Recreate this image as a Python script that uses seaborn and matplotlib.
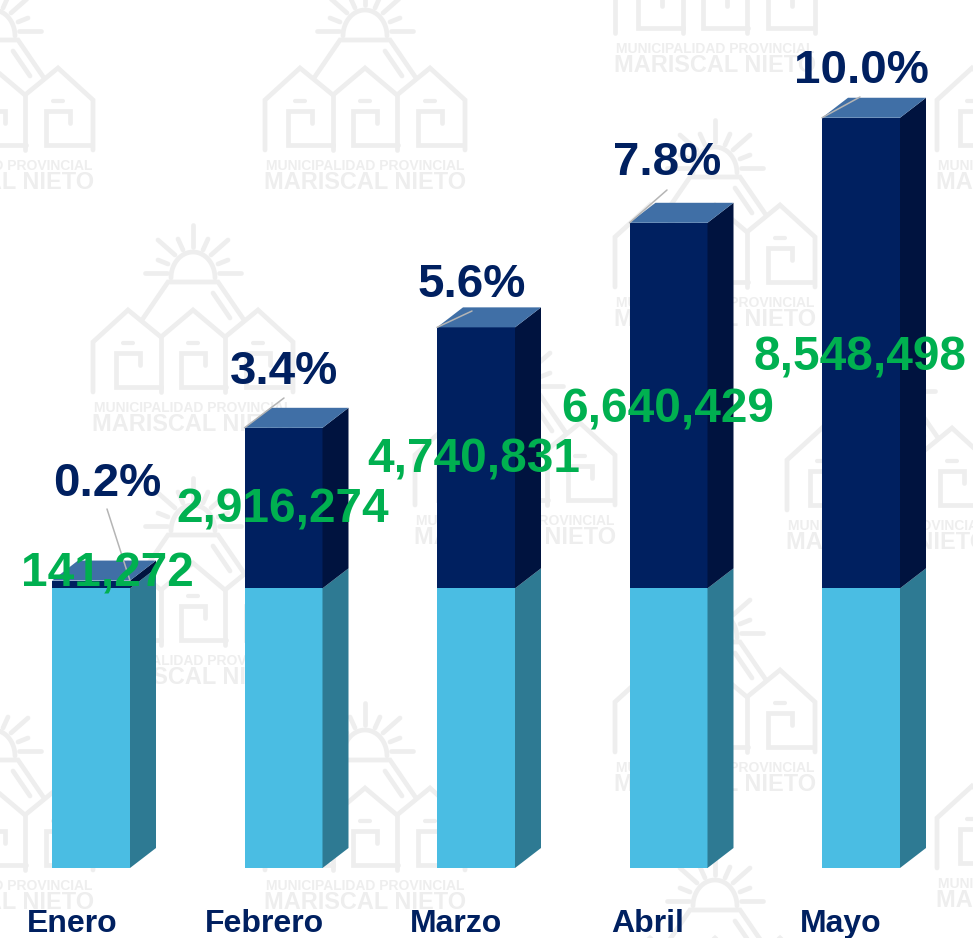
import matplotlib
matplotlib.use("Agg")
import matplotlib.pyplot as plt
import numpy as np
import seaborn as sns

# Data
meses = ["Enero", "Febrero", "Marzo", "Abril", "Mayo"]
base = 5080000
montos = [141272, 2916274, 4740831, 6640429, 8548498]
porcentajes = ["0.2%", "3.4%", "5.6%", "7.8%", "10.0%"]

# Colours
AZUL = "#002060"
AZUL_LADO = "#00133F"
AZUL_TAPA = "#406FA6"
CELESTE = "#4ABDE3"
CELESTE_LADO = "#2E7A93"
VERDE = "#00B050"
GRIS = "#B5B5B5"
MARCA = "#EEEEEE"

# Label layout in picture pixels (x, baseline y)
pos_pct = [(107, 496), (284, 384), (472, 297), (667, 175), (861, 83)]
pos_monto = [(107, 587), (283, 523), (474, 473), (668, 423), (860, 370)]
pos_mes = [72, 264, 456, 648, 841]
fin_guia = [(107, 509), (284, 398), (472, 311), (667, 190), (860, 97)]
# Watermark logos (centre x, bottom y of the houses)
logos = [(-7, 150), (365, 150), (1037, 150), (715, 33), (715, 287), (193, 392),
         (515, 505), (887, 510), (193, 645), (715, 752), (-7, 870), (365, 870),
         (1037, 868), (715, 1020)]

W, H = 973, 938
PX_X = 192.5
PX_M = 55.05 / 1e6  # pixels per unit of value
ANCHO = 78 / PX_X
DX = 26 / PX_X
DY = 20 / PX_M

sns.set_theme(style="white")
plt.rcParams["font.family"] = ["Liberation Sans", "DejaVu Sans"]

fig = plt.figure(figsize=(W / 100, H / 100), dpi=100)
fondo = fig.add_axes([0, 0, 1, 1], zorder=0)
fondo.set_xlim(0, W)
fondo.set_ylim(H, 0)
fondo.axis("off")


def dibuja_logo(cx, b):
    def linea(xs, ys, lw=3.4):
        fondo.plot(np.array(xs) + cx, b + np.array(ys), color=MARCA, lw=lw,
                   solid_capstyle="round", solid_joinstyle="miter", clip_on=True)

    # houses and mountain
    linea([-100, -100, -65, 0 - 32, 0, 32, 65, 100, 100], [0, -50, -82, -55, -82, -55, -82, -50, 0])
    linea([-32, -32], [-55, 0])
    linea([32, 32], [-55, 0])
    linea([-51, -25, 25, 51], [-72, -110, -110, -72])
    linea([20, 37], [-99, -74])
    for c in (-65, 0, 65):
        linea([c - 5, c + 5], [-49, -49], lw=3)
        linea([c + 12, c + 12, c - 12, c - 12, c + 33], [-27, -39, -39, -5, -5])
    # sun
    t = np.radians(np.linspace(0, 180, 40))
    linea(22 * np.cos(t), -114 - 26 * np.sin(t))
    linea([-48, -26], [-119, -119])
    linea([26, 48], [-119, -119])
    linea([0, 0], [-167, -145])
    for s in (-1, 1):
        linea([s * 35, s * 18], [-152, -137])
        linea([s * 15, s * 10], [-153, -142])
        linea([s * 35, s * 25], [-132, -128])
    fondo.text(cx, b + 20, "MUNICIPALIDAD PROVINCIAL", color=MARCA, fontsize=10, weight="bold",
               ha="center", va="baseline", clip_on=True)
    fondo.text(cx, b + 39, "MARISCAL NIETO", color=MARCA, fontsize=16.9, weight="bold",
               ha="center", va="baseline", clip_on=True)


for cx, b in logos:
    dibuja_logo(cx, b)

# Bars
ax = fig.add_axes([0, 0, 1, 1], zorder=1)
ax.patch.set_alpha(0)
totales = [base + m for m in montos]
sns.barplot(x=meses, y=totales, color=AZUL, saturation=1, width=ANCHO, linewidth=0, ax=ax)
sns.barplot(x=meses, y=[base] * len(meses), color=CELESTE, saturation=1, width=ANCHO, linewidth=0, ax=ax)

for i, total in enumerate(totales):
    izq, der = i - ANCHO / 2, i + ANCHO / 2
    ax.fill([der, der + DX, der + DX, der], [0, DY, base + DY, base], color=CELESTE_LADO, lw=0)
    ax.fill([der, der + DX, der + DX, der], [base, base + DY, total + DY, total], color=AZUL_LADO, lw=0)
    ax.fill([izq, der, der + DX, izq + DX], [total, total, total + DY, total + DY], color=AZUL_TAPA, lw=0)

ax.set_xlim(-91.0 / PX_X, (W - 91.0) / PX_X)
ax.set_ylim(-70 / PX_M, 868 / PX_M)
ax.axis("off")

# Leader lines and labels use picture pixels
px = fondo.transData
for i, total in enumerate(totales):
    izq = 91 + PX_X * i - 39
    y_top = 868 - total * PX_M
    if i == 0:
        # first one drops down onto the bar from under its label
        xs, ys = [fin_guia[i][0], izq + 78], [fin_guia[i][1], y_top]
    else:
        xs, ys = [izq, fin_guia[i][0]], [y_top, fin_guia[i][1]]
    ax.plot(xs, ys, color=GRIS, lw=1.1, transform=px, zorder=5)
    ax.text(pos_pct[i][0], pos_pct[i][1], porcentajes[i], color=AZUL, fontsize=34.2, weight="bold",
            ha="center", va="baseline", transform=px, zorder=6)
    ax.text(pos_monto[i][0], pos_monto[i][1], f"{montos[i]:,}", color=VERDE, fontsize=34.4, weight="bold",
            ha="center", va="baseline", transform=px, zorder=7)
    ax.text(pos_mes[i], 932, meses[i], color=AZUL, fontsize=23, weight="bold",
            ha="center", va="baseline", transform=px, zorder=6)

fig.savefig("out.png", dpi=100)
